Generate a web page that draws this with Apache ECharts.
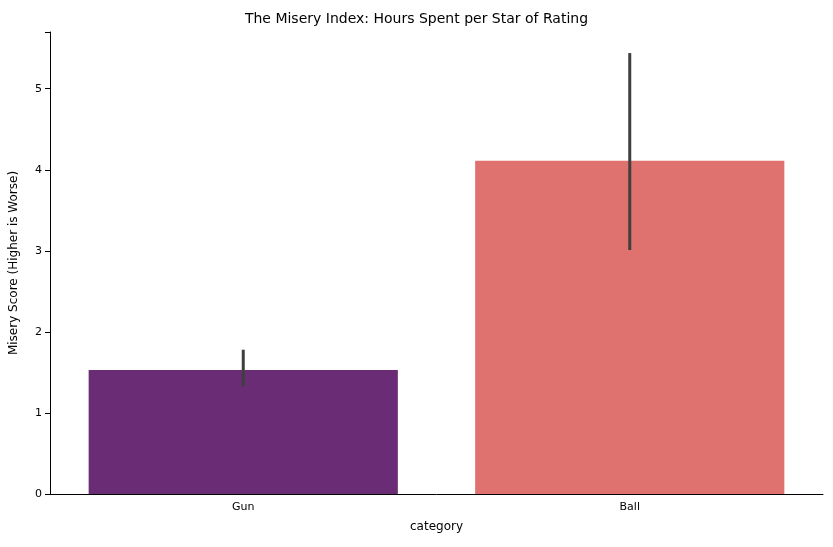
<!DOCTYPE html>
<html><head><meta charset="utf-8">
<script src="https://cdn.jsdelivr.net/npm/echarts@6/dist/echarts.min.js"></script>
<style>html,body{margin:0;padding:0;background:#fff}#c{width:833px;height:547px}</style>
</head><body><div id="c"></div>
<script>
const categories = ['Gun', 'Ball'];
const values = [1.53, 4.11];
const errLow = [1.33, 3.01];
const errHigh = [1.78, 5.44];
const colors = ['#6a2c75', '#df716f'];

const chart = echarts.init(document.getElementById('c'));
chart.setOption({
  animation: false,
  title: {text: 'The Misery Index: Hours Spent per Star of Rating', left: 'center', top: 7,
    textStyle: {fontFamily: 'DejaVu Sans', fontSize: 14, fontWeight: 'normal', color: '#000'}},
  grid: {left: 48, right: 10, top: 32, bottom: 53},
  xAxis: {type: 'category', data: categories, name: 'category', nameLocation: 'middle', nameGap: 27,
    nameTextStyle: {fontFamily: 'DejaVu Sans', fontSize: 12, color: '#000'},
    axisLine: {lineStyle: {color: '#000'}}, axisTick: {alignWithLabel: true, lineStyle: {color: '#000'}},
    axisLabel: {fontFamily: 'DejaVu Sans', fontSize: 11, color: '#000'}},
  yAxis: {type: 'value', min: 0, max: 5.7, interval: 1, name: 'Misery Score (Higher is Worse)',
    nameLocation: 'middle', nameGap: 30,
    nameTextStyle: {fontFamily: 'DejaVu Sans', fontSize: 12, color: '#000'},
    axisLine: {show: true, lineStyle: {color: '#000'}}, axisTick: {show: true, lineStyle: {color: '#000'}},
    splitLine: {show: false},
    axisLabel: {fontFamily: 'DejaVu Sans', fontSize: 11, color: '#000',
      formatter: v => Number.isInteger(v) ? String(v) : ''}},
  series: [
    {type: 'bar', barWidth: '80%', data: values.map((v, i) => ({value: v, itemStyle: {color: colors[i]}}))},
    {type: 'custom', z: 10, data: categories.map((c, i) => [i, errLow[i], errHigh[i]]),
      renderItem: (params, api) => {
        const a = api.coord([api.value(0), api.value(1)]);
        const b = api.coord([api.value(0), api.value(2)]);
        return {type: 'line', shape: {x1: a[0], y1: a[1], x2: b[0], y2: b[1]},
          style: {stroke: '#3f3f3f', lineWidth: 3}};
      }}
  ]
});
</script></body></html>
